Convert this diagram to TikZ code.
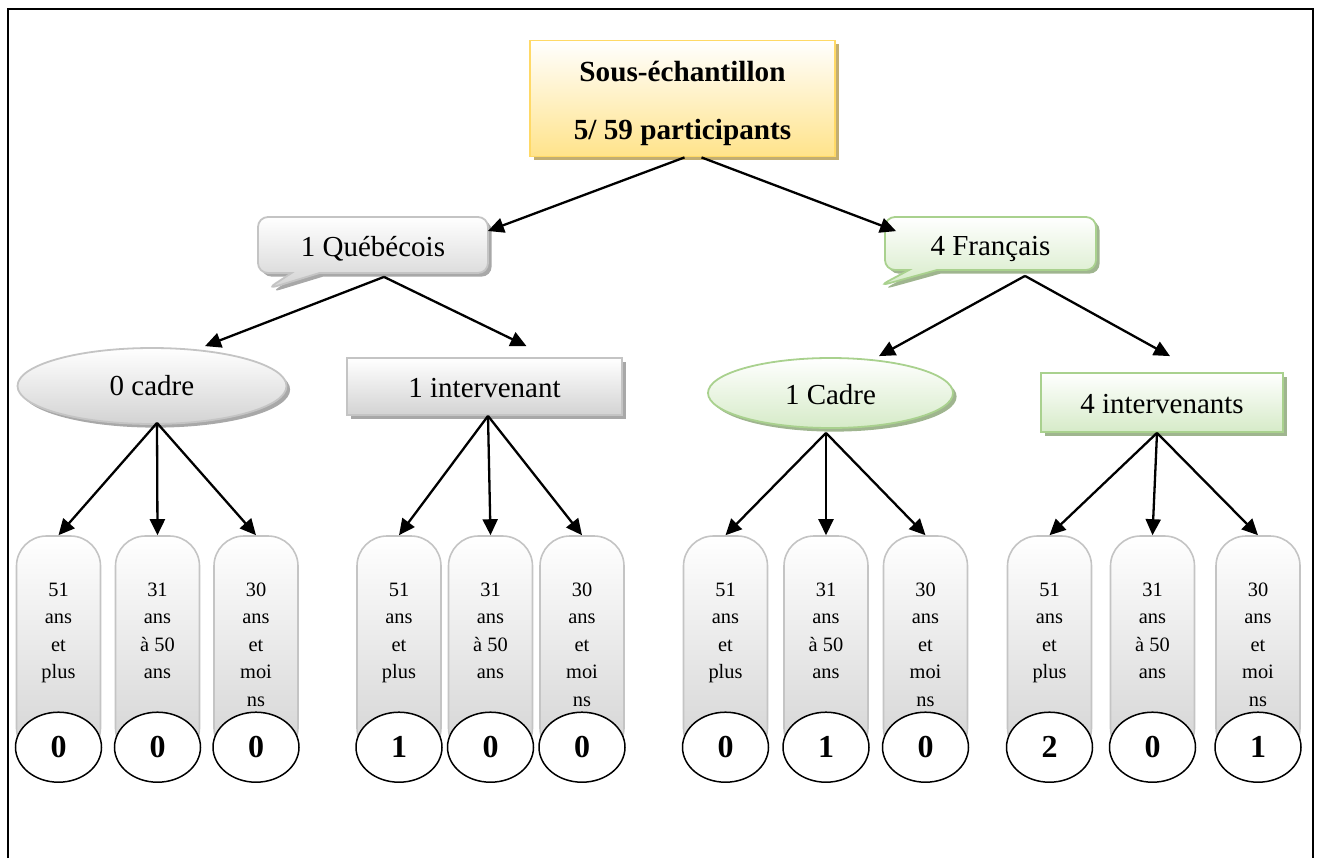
\documentclass[tikz,border=0pt]{standalone}
\usepackage{fontspec}
\setmainfont{Liberation Serif}
\usetikzlibrary{arrows.meta,shapes.geometric,shapes.callouts,shadows,calc}
\definecolor{rootborder}{HTML}{FFD966}
\definecolor{rootfill}{HTML}{FFE38A}
\definecolor{rootshadow}{HTML}{C2AE72}
\definecolor{greyborder}{HTML}{C4C4C4}
\definecolor{greyfill}{HTML}{D3D3D3}
\definecolor{greyshadow}{HTML}{A8A8A8}
\definecolor{greenborder}{HTML}{A9D18E}
\definecolor{greenfill}{HTML}{D6EBC8}
\definecolor{greenshadow}{HTML}{9FB58F}
\newcommand\lowr[2]{\raisebox{-#1}[\height][\depth]{#2}}
\begin{document}
\begin{tikzpicture}[x=0.5pt,y=-0.5pt,
  arr/.style={line width=1.15pt,-{Triangle[length=8pt,width=7.5pt]}},
  lvltext/.style={font=\fontsize{14.5}{17}\selectfont,inner sep=0pt},
  greystyle/.style={draw=greyborder,line width=0.9pt,top color=white,bottom color=greyfill,
     drop shadow={shadow xshift=1.8pt,shadow yshift=-1.8pt,fill=greyshadow,opacity=1}},
  greenstyle/.style={draw=greenborder,line width=0.9pt,top color=white,bottom color=greenfill,
     drop shadow={shadow xshift=1.8pt,shadow yshift=-1.8pt,fill=greenshadow,opacity=1}},
  pill/.style={rectangle,rounded corners=15pt,draw=greyborder,line width=0.8pt,top color=white,bottom color=greyfill,
     minimum width=42pt,minimum height=111pt,inner sep=0pt},
  pilltext/.style={align=center,font=\fontsize{10.2}{13.75}\selectfont,inner sep=0pt,anchor=north},
  numell/.style={ellipse,draw=black,line width=0.75pt,fill=white,minimum width=43pt,minimum height=35pt,inner sep=0pt,
     font=\bfseries\fontsize{16}{18}\selectfont}
]
\useasboundingbox (0,0) rectangle (1318,858);
\draw[line width=1.4pt] (8,858) -- (8,9) -- (1313,9) -- (1313,858);

% root
\node[rectangle,draw=rootborder,line width=0.9pt,top color=white,bottom color=rootfill,
  drop shadow={shadow xshift=1.8pt,shadow yshift=-1.8pt,fill=rootshadow,opacity=1},
  minimum width=152.5pt,minimum height=57.5pt,inner sep=0pt,
  font=\bfseries\fontsize{14.6}{29}\selectfont] (root) at (682.5,98.5)
  {\begin{tabular}{@{}c@{}}Sous-échantillon\\5/ 59 participants\end{tabular}};

% level 1 callouts
\node[rectangle callout,rounded corners=5pt,greystyle,lvltext,minimum width=115pt,minimum height=28pt,
  callout absolute pointer={(267,289)},callout pointer width=14pt] (queb) at (373,245) {\lowr{2pt}{1 Québécois}};
\node[rectangle callout,rounded corners=5pt,greenstyle,lvltext,minimum width=105.5pt,minimum height=26.5pt,
  callout absolute pointer={(879,286)},callout pointer width=14pt] (fran) at (990.5,243.5) {\lowr{2.5pt}{4 Français}};

% level 2
\node[ellipse,greystyle,lvltext,minimum width=134.5pt,minimum height=38pt] (cadre0) at (152,386) {0 cadre};
\node[rectangle,greystyle,lvltext,minimum width=137.5pt,minimum height=28.5pt] (inter1) at (484.5,386.5) {\lowr{1pt}{1 intervenant}};
\node[ellipse,greenstyle,lvltext,minimum width=122.5pt,minimum height=35pt] (cadre1) at (830.5,393) {\lowr{1pt}{1 Cadre}};
\node[rectangle,greenstyle,lvltext,minimum width=121pt,minimum height=29.5pt] (inter4) at (1162,402.5) {\lowr{1pt}{4 intervenants}};

% pills
\foreach \px [count=\i] in {58.5,157.5,256,399,490.5,582,725.5,826,925.5,1049.5,1152.5,1258}
  \node[pill] (p\i) at (\px,647) {};
\foreach \i in {1,4,7,10}
  \node[pilltext] at ($(p\i.north)+(0,47)$) {51\\ans\\et\\plus};
\foreach \i in {2,5,8,11}
  \node[pilltext] at ($(p\i.north)+(0,47)$) {31\\ans\\à 50\\ans};
\foreach \i in {3,6,9,12}
  \node[pilltext] at ($(p\i.north)+(0,47)$) {30\\ans\\et\\moi\\ns};
\foreach \i/\num in {1/0,2/0,3/0,4/1,5/0,6/0,7/0,8/1,9/0,10/2,11/0,12/1}
  \node[numell] (n\i) at ($(p\i.north)+(0,212)$) {\num};

% arrows
\draw[arr] ($(root.south)+(2,0)$) -- ($(queb.east)+(-1,-14)$);
\draw[arr] ($(root.south)+(19,0)$) -- ($(fran.north west)+(12,15)$);
\draw[arr] ($(queb.south)+(11,3)$) -- ($(cadre0.north)+(53,-1)$);
\draw[arr] ($(queb.south)+(11,3)$) -- ($(inter1.north)+(42,-11)$);
\draw[arr] ($(fran.south)+(34.5,5)$) -- ($(cadre1.north)+(48.5,-1)$);
\draw[arr] ($(fran.south)+(34.5,5)$) -- ($(inter4.north)+(8,-16)$);

\foreach \i in {1,2,3}
  \draw[arr] ($(cadre0.south)+(5,-2)$) -- (p\i.north);
\foreach \i in {4,5,6}
  \draw[arr] ($(inter1.south)+(3.5,0)$) -- (p\i.north);
\foreach \i in {7,8,9}
  \draw[arr] ($(cadre1.south)+(-4.5,4)$) -- (p\i.north);
\foreach \i in {10,11,12}
  \draw[arr] ($(inter4.south)+(-5,0)$) -- (p\i.north);
\end{tikzpicture}
\end{document}
